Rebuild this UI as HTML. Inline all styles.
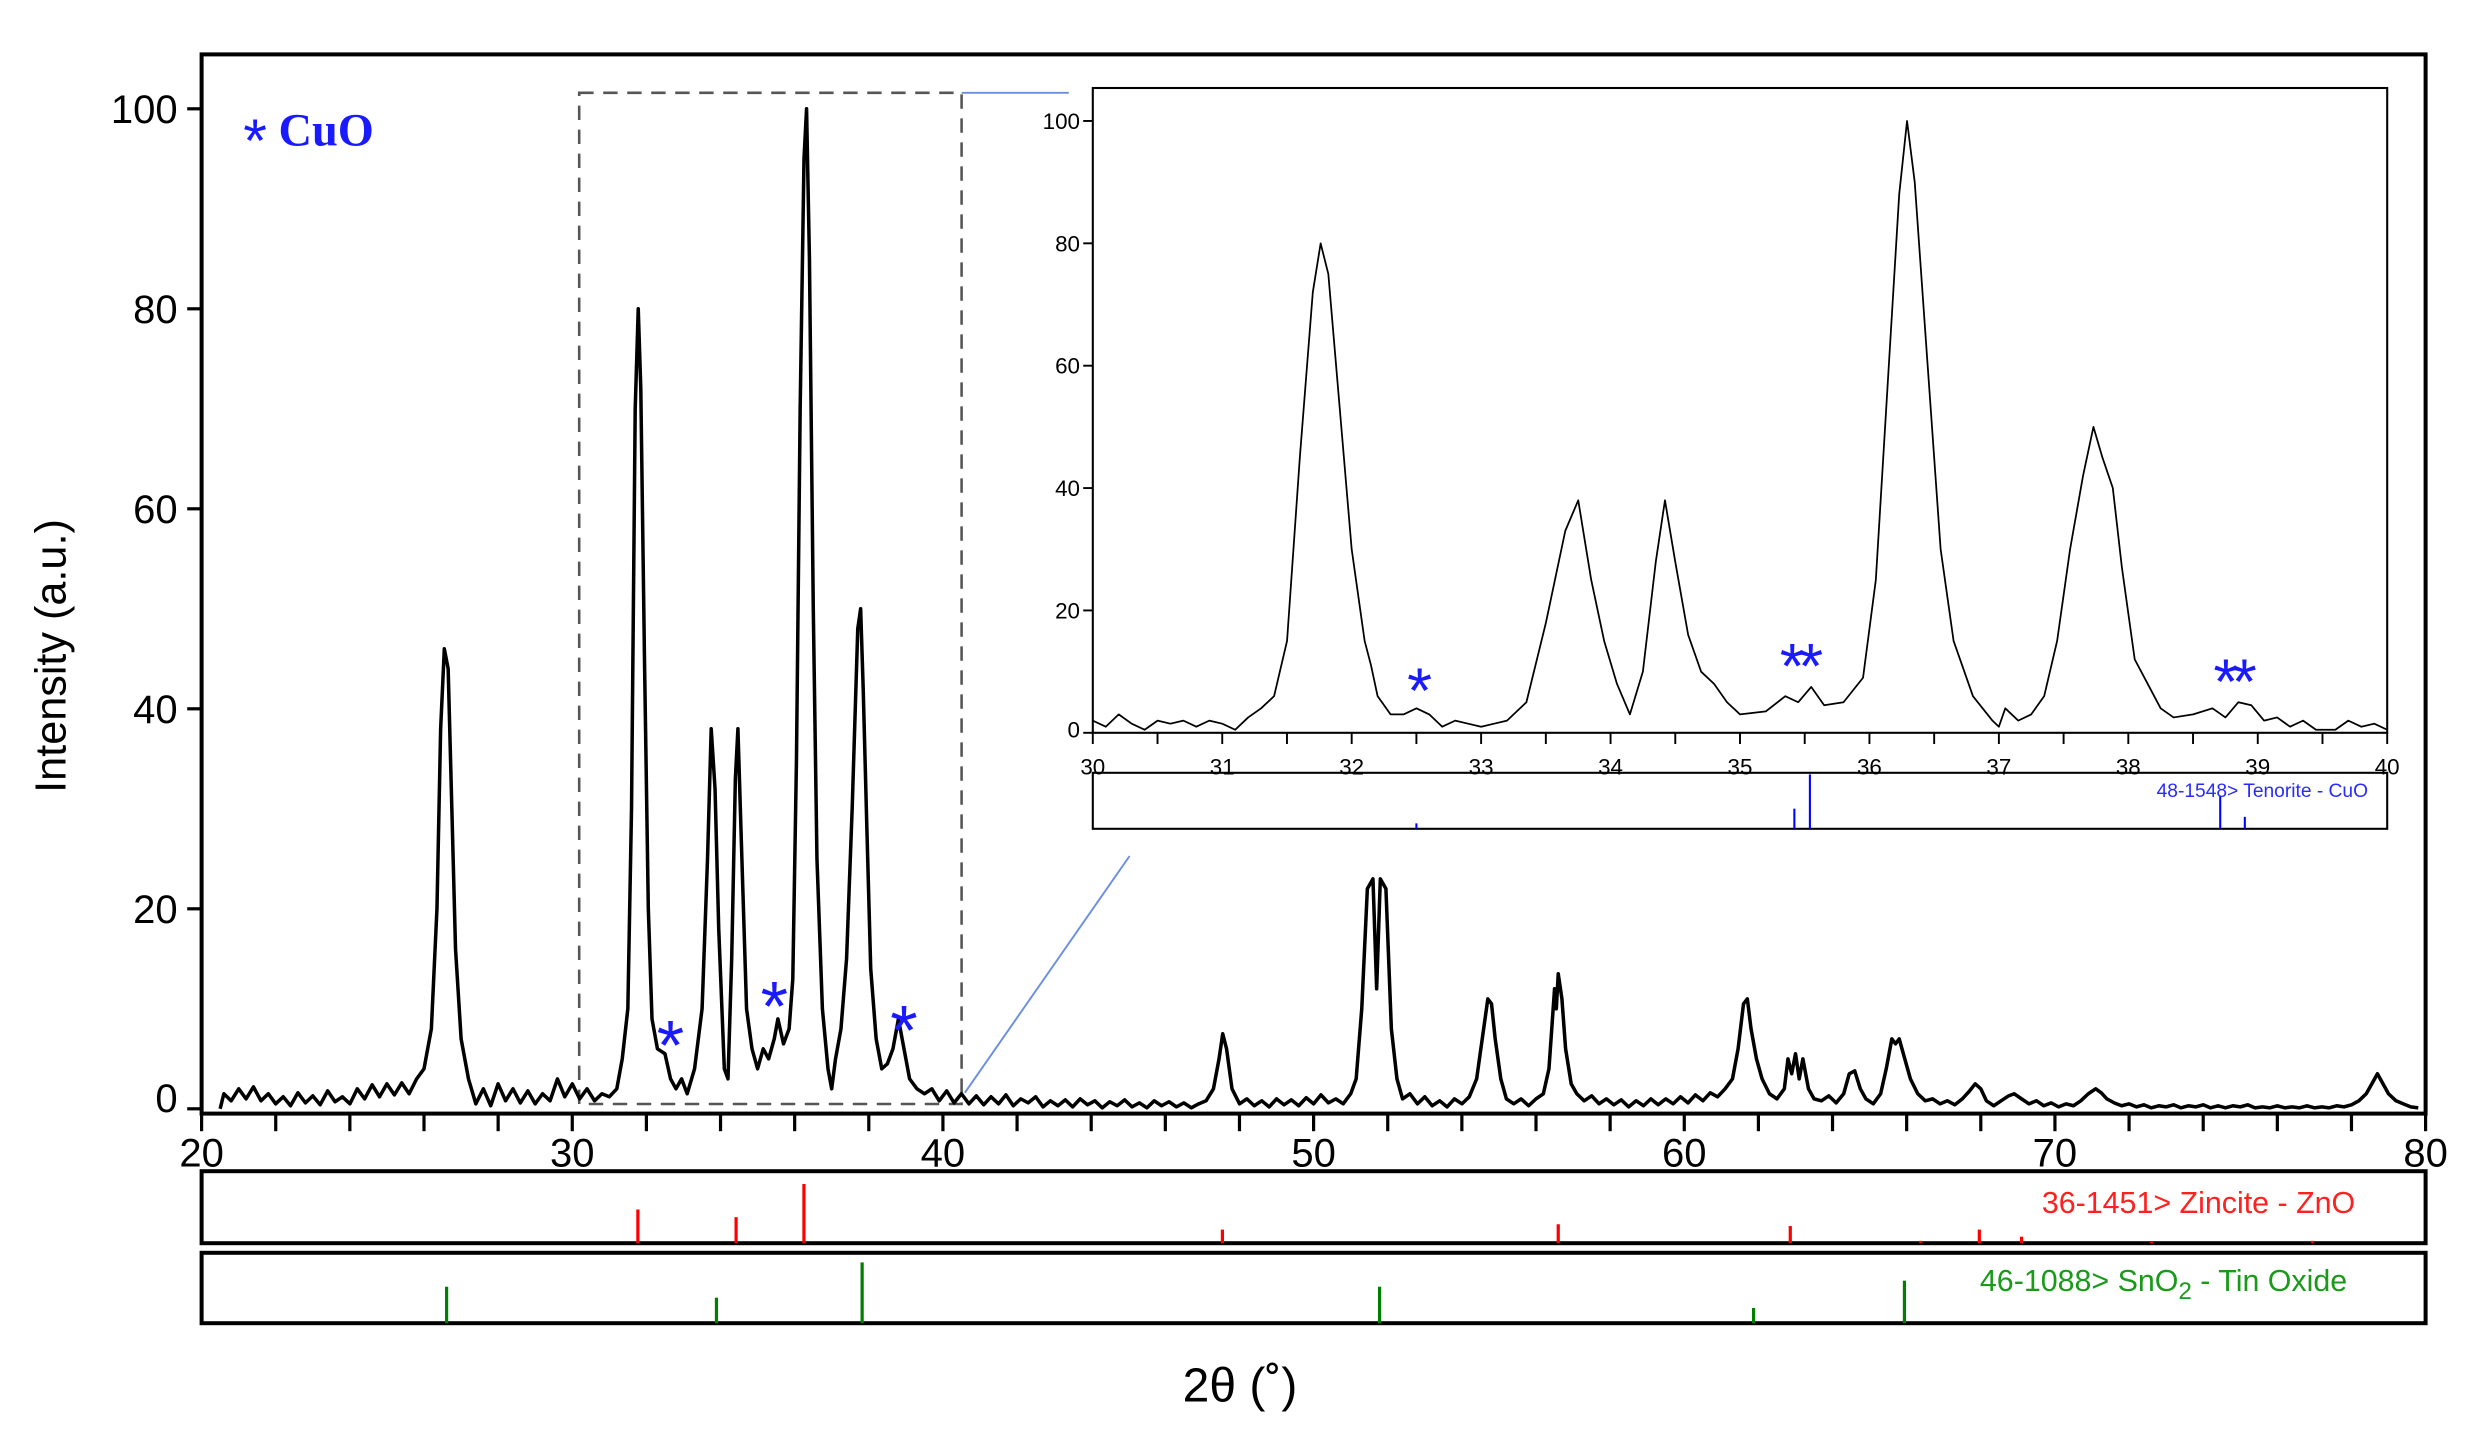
<!DOCTYPE html>
<html><head><meta charset="utf-8"><title>XRD pattern</title>
<style>html,body{margin:0;padding:0;background:#fff}svg{display:block}text{font-family:"Liberation Sans",sans-serif}</style>
</head><body>
<svg id="chart" xmlns="http://www.w3.org/2000/svg" width="2488" height="1444" viewBox="0 0 1555 902.5">
<rect width="1555" height="902.5" fill="#fff"/>
<g id="main"></g>
<g id="inset"></g>
</svg>
<script>
// main pattern (2theta, intensity)
const mainX = [20.5,20.6,20.8,21,21.2,21.4,21.6,21.8,22,22.2,22.4,22.6,22.8,23,23.2,23.4,23.6,23.8,24,24.2,24.4,24.6,24.8,25,25.2,25.4,25.6,25.8,26,26.2,26.35,26.45,26.55,26.65,26.75,26.85,27,27.2,27.4,27.6,27.8,28,28.2,28.4,28.6,28.8,29,29.2,29.4,29.6,29.8,30,30.2,30.4,30.6,30.8,31,31.2,31.35,31.5,31.6,31.7,31.78,31.85,31.95,32.05,32.15,32.3,32.5,32.65,32.8,32.95,33.1,33.3,33.5,33.65,33.75,33.85,33.95,34.1,34.2,34.3,34.4,34.47,34.55,34.7,34.85,35,35.15,35.3,35.45,35.55,35.7,35.85,35.95,36.05,36.15,36.25,36.32,36.4,36.5,36.6,36.75,36.9,37,37.1,37.25,37.4,37.55,37.7,37.78,37.85,37.95,38.05,38.2,38.35,38.5,38.65,38.8,38.95,39.1,39.3,39.5,39.7,39.9,40.1,40.3,40.5,40.7,40.9,41.1,41.3,41.5,41.7,41.9,42.1,42.3,42.5,42.7,42.9,43.1,43.3,43.5,43.7,43.9,44.1,44.3,44.5,44.7,44.9,45.1,45.3,45.5,45.7,45.9,46.1,46.3,46.5,46.7,46.9,47.1,47.3,47.45,47.55,47.65,47.8,48,48.2,48.4,48.6,48.8,49,49.2,49.4,49.6,49.8,50,50.2,50.4,50.6,50.8,51,51.15,51.3,51.45,51.6,51.7,51.8,51.95,52.1,52.25,52.4,52.6,52.8,53,53.2,53.4,53.6,53.8,54,54.2,54.4,54.55,54.7,54.8,54.9,55.05,55.2,55.4,55.6,55.8,56,56.2,56.35,56.5,56.55,56.6,56.7,56.8,56.95,57.1,57.3,57.5,57.7,57.9,58.1,58.3,58.5,58.7,58.9,59.1,59.3,59.5,59.7,59.9,60.1,60.3,60.5,60.7,60.9,61.1,61.3,61.45,61.6,61.7,61.8,61.95,62.1,62.3,62.5,62.7,62.8,62.9,63,63.1,63.2,63.35,63.5,63.7,63.9,64.1,64.3,64.45,64.6,64.75,64.9,65.1,65.3,65.45,65.6,65.7,65.8,65.95,66.1,66.3,66.5,66.7,66.9,67.1,67.3,67.5,67.7,67.85,68,68.15,68.35,68.55,68.75,68.9,69.1,69.3,69.5,69.7,69.9,70.1,70.3,70.5,70.7,70.9,71.1,71.25,71.4,71.6,71.8,72,72.2,72.4,72.6,72.8,73,73.2,73.4,73.6,73.8,74,74.2,74.4,74.6,74.8,75,75.2,75.4,75.6,75.8,76,76.2,76.4,76.6,76.8,77,77.2,77.4,77.6,77.8,78,78.2,78.4,78.55,78.7,78.85,79,79.2,79.4,79.6,79.8];
const mainY = [0,1.5,0.8,2,1,2.2,0.8,1.5,0.5,1.2,0.3,1.6,0.6,1.3,0.4,1.8,0.7,1.2,0.5,2,1,2.4,1.2,2.5,1.4,2.6,1.5,3,4,8,20,38,46,44,30,16,7,3,0.5,2,0.3,2.5,0.8,2,0.6,1.8,0.5,1.5,0.8,3,1.2,2.5,1,2,0.8,1.5,1.2,2,5,10,30,70,80,72,45,20,9,6,5.5,3,2,3,1.5,4,10,25,38,32,18,4,3,15,33,38,28,10,6,4,6,5,7,9,6.5,8,13,35,70,95,100,85,50,25,10,4,2,5,8,15,30,48,50,42,28,14,7,4,4.5,6,9,6,3,2,1.5,2,0.8,1.8,0.6,1.5,0.5,1.3,0.4,1.2,0.5,1.4,0.3,1,0.6,1.2,0.2,0.8,0.3,0.9,0.2,1,0.4,0.8,0.1,0.7,0.3,0.9,0.2,0.6,0.1,0.8,0.3,0.7,0.2,0.6,0.1,0.5,0.8,2,5,7.5,6,2,0.5,1,0.3,0.8,0.2,1,0.4,0.9,0.3,1.1,0.5,1.4,0.6,1,0.5,1.5,3,10,22,23,12,23,22,8,3,1,1.5,0.5,1.2,0.3,0.8,0.2,1,0.5,1.2,3,7,11,10.5,7,3,1,0.5,1,0.3,1,1.5,4,12,10,13.5,11,6,2.5,1.5,0.8,1.3,0.5,1,0.4,0.9,0.2,0.8,0.3,1,0.4,1,0.5,1.2,0.6,1.4,0.8,1.6,1.2,2,3,6,10.5,11,8,5,3,1.5,1,2,5,3.5,5.5,3,5,2,1,0.8,1.3,0.6,1.5,3.5,3.8,2,1,0.5,1.5,4,7,6.5,7,5,3,1.5,0.8,1,0.5,0.8,0.4,1,1.8,2.5,2,0.8,0.3,0.8,1.3,1.5,1,0.5,0.8,0.3,0.6,0.2,0.5,0.3,0.8,1.5,2,1.6,1,0.6,0.3,0.5,0.2,0.4,0.1,0.3,0.2,0.4,0.1,0.3,0.2,0.4,0.1,0.3,0.1,0.3,0.2,0.4,0.1,0.2,0.1,0.3,0.1,0.2,0.1,0.3,0.1,0.2,0.1,0.3,0.2,0.4,0.8,1.5,2.5,3.5,2.5,1.5,0.8,0.5,0.2,0.1];
// inset (30-40)
const insetX = [30,30.1,30.2,30.3,30.4,30.5,30.6,30.7,30.8,30.9,31,31.1,31.2,31.3,31.4,31.5,31.6,31.7,31.76,31.82,31.9,32,32.1,32.15,32.2,32.3,32.4,32.5,32.6,32.7,32.8,32.9,33,33.1,33.2,33.35,33.5,33.65,33.75,33.85,33.95,34.05,34.15,34.25,34.35,34.42,34.5,34.6,34.7,34.8,34.9,35,35.2,35.35,35.45,35.55,35.65,35.8,35.95,36.05,36.15,36.23,36.29,36.35,36.45,36.55,36.65,36.8,36.95,37,37.05,37.15,37.25,37.35,37.45,37.55,37.65,37.73,37.8,37.88,37.95,38.05,38.15,38.25,38.35,38.5,38.65,38.75,38.85,38.95,39.05,39.15,39.25,39.35,39.45,39.6,39.7,39.8,39.9,40];
const insetY = [2,1,3,1.5,0.5,2,1.5,2,1,2,1.5,0.5,2.5,4,6,15,45,72,80,75,55,30,15,11,6,3,3,4,3,1,2,1.5,1,1.5,2,5,18,33,38,25,15,8,3,10,28,38,28,16,10,8,5,3,3.5,6,5,7.5,4.5,5,9,25,60,88,100,90,60,30,15,6,2,1,4,2,3,6,15,30,42,50,45,40,27,12,8,4,2.5,3,4,2.5,5,4.5,2,2.5,1,2,0.5,0.5,2,1,1.5,0.5];
// reference patterns
const znoPos = [31.77,34.42,36.25,47.54,56.6,62.86,66.38,67.96,69.1,72.6,76.95];
const znoInt = [57,44,100,23,32,29,4,23,11,2,4];
const sno2Pos = [26.61,33.89,37.82,51.78,61.87,65.94];
const sno2Int = [60,42,100,60,25,70];
const cuoPos = [32.5,35.42,35.54,38.71,38.9];
const cuoInt = [10,37,100,60,22];
const mainXTicks = [20,30,40,50,60,70,80];
const mainYTicks = [0,20,40,60,80,100];
const insetXTicks = [30,31,32,33,34,35,36,37,38,39,40];
const insetYTicks = [0,20,40,60,80,100];
const mainStars = [[32.65,8.1],[35.45,12.0],[38.95,9.6]];
const insetStars = [[32.5,9.5,"*"],[35.45,13.5,"**"],[38.8,11,"**"]];

const NS="http://www.w3.org/2000/svg";
function mk(parent,tag,attrs,txt){const e=document.createElementNS(NS,tag);for(const k in attrs)e.setAttribute(k,attrs[k]);if(txt!==undefined)e.textContent=txt;parent.appendChild(e);return e;}
const gm=document.getElementById('main'), gi=document.getElementById('inset');
const mx=v=>126+(v-20)*(1516-126)/60;
const my=v=>693-v*6.25;
let e=mk(gm,'rect',{x:126,y:34,width:1390,height:662,fill:'none',stroke:'#000','stroke-width':2.5});

e=mk(gm,'rect',{x:362,y:58,width:239,height:632,fill:'none',stroke:'#555','stroke-width':1.6,'stroke-dasharray':'9,6'});

e=mk(gm,'line',{x1:601,y1:58,x2:668,y2:58,stroke:'#6a8fe0','stroke-width':1.2});

e=mk(gm,'line',{x1:603,y1:683,x2:706,y2:535,stroke:'#6a8fe0','stroke-width':1.2});

for(let t=20;t<=80;t+=2){e=mk(gm,'line',{x1:mx(t),y1:696,x2:mx(t),y2:707,stroke:'#000','stroke-width':2});
}
mainXTicks.forEach(t=>{e=mk(gm,'text',{x:mx(t),y:729,'font-size':25,'text-anchor':'middle'},String(t));
});
mainYTicks.forEach(t=>{e=mk(gm,'line',{x1:117,y1:my(t),x2:126,y2:my(t),stroke:'#000','stroke-width':2});

e=mk(gm,'text',{x:111,y:my(t)+9-(t===0?7:0),'font-size':25,'text-anchor':'end'},String(t));
});
e=mk(gm,'text',{x:0,y:0,'font-size':27,'text-anchor':'middle',transform:'translate(41,410) rotate(-90)'},'Intensity (a.u.)');

e=mk(gm,'text',{x:775,y:876,'font-size':30,'text-anchor':'middle'},'2θ (˚)');

e=mk(gm,'text',{x:152,y:91,style:'font-family:"Liberation Serif",serif;font-size:29px;font-weight:bold;fill:#1a1aff'});

e.innerHTML='<tspan style="font-family:\'Liberation Sans\',sans-serif;font-weight:normal;font-size:38px" dy="10">*</tspan><tspan dy="-10"> CuO</tspan>';
let d=mainX.map((x,i)=>(i?'L':'M')+mx(x).toFixed(1)+','+my(mainY[i]).toFixed(1)).join('');
e=mk(gm,'path',{d:d,fill:'none',stroke:'#000','stroke-width':2.2,'stroke-linejoin':'round'});

mainStars.forEach(s=>{e=mk(gm,'text',{x:mx(s[0]),y:my(s[1])+0.59*44,'font-size':44,fill:'#1a1aff','text-anchor':'middle'},'*');
});
e=mk(gm,'rect',{x:126,y:732,width:1390,height:45,fill:'none',stroke:'#000','stroke-width':2.5});

e=mk(gm,'rect',{x:126,y:783,width:1390,height:44,fill:'none',stroke:'#000','stroke-width':2.5});

znoPos.forEach((p,i)=>{e=mk(gm,'line',{x1:mx(p),y1:777,x2:mx(p),y2:777-znoInt[i]*0.37,stroke:'#ff0000','stroke-width':2});
});
sno2Pos.forEach((p,i)=>{e=mk(gm,'line',{x1:mx(p),y1:827,x2:mx(p),y2:827-sno2Int[i]*0.38,stroke:'#008000','stroke-width':2});
});
e=mk(gm,'text',{x:1472,y:758,'font-size':19,fill:'#ff2020','text-anchor':'end'},'36-1451> Zincite - ZnO');

e=mk(gm,'text',{x:1467,y:807,'font-size':19,fill:'#1a9a1a','text-anchor':'end'});

e.innerHTML='46-1088&gt; SnO<tspan dy="5" font-size="15">2</tspan><tspan dy="-5"> - Tin Oxide</tspan>';

const ix=v=>683+(v-30)*80.9;
const iy=v=>458-v*3.824;
e=mk(gi,'rect',{x:683,y:55,width:809,height:403,fill:'#fff',stroke:'#000','stroke-width':1.3});

for(let t=30;t<=40.01;t+=0.5){e=mk(gi,'line',{x1:ix(t),y1:458,x2:ix(t),y2:465,stroke:'#000','stroke-width':1.2});
}
insetXTicks.forEach(t=>{e=mk(gi,'text',{x:ix(t),y:484,'font-size':14,'text-anchor':'middle'},String(t));
});
insetYTicks.forEach(t=>{e=mk(gi,'line',{x1:677,y1:iy(t),x2:683,y2:iy(t),stroke:'#000','stroke-width':1.2});

e=mk(gi,'text',{x:675,y:iy(t)+5-(t===0?2:0),'font-size':14,'text-anchor':'end'},String(t));
});
d=insetX.map((x,i)=>(i?'L':'M')+ix(x).toFixed(1)+','+iy(insetY[i]).toFixed(1)).join('');
e=mk(gi,'path',{d:d,fill:'none',stroke:'#000','stroke-width':1.1,'stroke-linejoin':'round'});

insetStars.forEach(s=>{e=mk(gi,'text',{x:ix(s[0]),y:iy(s[1])+0.59*40,'font-size':40,fill:'#1a1aff','text-anchor':'middle','letter-spacing':'-4'},s[2]);
});
e=mk(gi,'rect',{x:683,y:483,width:809,height:35,fill:'none',stroke:'#000','stroke-width':1.3});

cuoPos.forEach((p,i)=>{e=mk(gi,'line',{x1:ix(p),y1:518,x2:ix(p),y2:518-cuoInt[i]*0.34,stroke:'#0000ff','stroke-width':1.3});
});
e=mk(gi,'text',{x:1480,y:498,'font-size':12,fill:'#2a2aff','text-anchor':'end'},'48-1548> Tenorite - CuO');

</script>
</body></html>
